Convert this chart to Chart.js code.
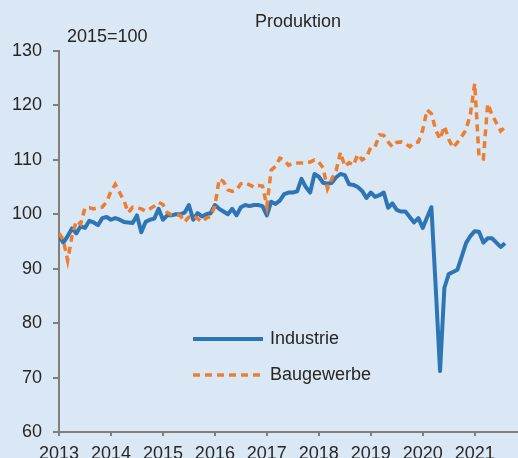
<!DOCTYPE html>
<html>
<head>
<meta charset="utf-8">
<script src="https://cdn.jsdelivr.net/npm/chart.js@4/dist/chart.umd.min.js"></script>
<style>
html,body{margin:0;padding:0;background:#dae8f5;}
#wrap{width:518px;height:458px;overflow:hidden;}
canvas{display:block;}
</style>
</head>
<body>
<div id="wrap"><canvas id="c" width="518" height="458"></canvas></div>
<script>
// Monthly index values, Jan 2013 onwards (2015=100)
const yearLabels = ["2013","2014","2015","2016","2017","2018","2019","2020","2021"];
const seriesNames = ["Industrie","Baugewerbe"];
const titleText = "Produktion";
const baseText = "2015=100";

const industrie = [
  96, 94.8, 96, 97.4, 96.5, 97.8, 97.5, 98.8, 98.5, 98, 99.3, 99.5,
  99, 99.3, 99, 98.6, 98.5, 98.4, 99.8, 96.7, 98.6, 99, 99.2, 101,
  99, 99.8, 99.8, 100, 100, 100.3, 101.7, 99, 100.2, 99.6, 100, 100.2,
  101.7, 101, 100.5, 100, 101, 99.8, 101.3, 101.7, 101.5, 101.7, 101.7, 101.5,
  99.8, 102.3, 101.9, 102.5, 103.7, 104, 104, 104.2, 106.5, 105, 104, 107.4,
  106.9, 105.8, 105.6, 105.8, 106.8, 107.4, 107.2, 105.5, 105.4, 105, 104.3, 103,
  104, 103.2, 103.5, 104, 101.2, 102, 100.8, 100.5, 100.5, 99.5, 98.5, 99.3,
  97.5, 99.4, 101.3, 86.5, 71.2, 86.5, 89, 89.4, 89.8, 92.2, 94.7, 96,
  96.9, 96.8, 94.8, 95.6, 95.6, 94.8, 94, 94.7
];
const baugewerbe = [
  96.5, 95.3, 91.5, 96, 98.8, 98.2, 101.2, 101.2, 101, 101.2, 101.3, 102.3,
  104.2, 105.5, 104, 102.5, 100.3, 101.3, 101.2, 101, 100.6, 101, 101.5, 102.2,
  101.8, 100.3, 99.9, 99.9, 99.8, 98.6, 99.5, 99.8, 99.2, 98.6, 99.3, 99.6,
  101.5, 106.5, 106, 104.5, 104.2, 104.5, 105.6, 105.8, 105.4, 105, 105.3, 105.2,
  101.5, 108.1, 108.8, 110.3, 110, 109, 109.4, 109.4, 109.4, 109.4, 109.6, 110,
  109.6, 108.5, 104.7, 106.5, 108, 111.4, 108.8, 109.5, 109, 111, 110, 110.5,
  112.3, 112.4, 114.6, 114.5, 113.3, 112.4, 113.2, 113.3, 113, 112.4, 113.2, 113.3,
  115.5, 119.2, 118.5, 115.5, 113.8, 116.2, 113.8, 112.2, 113.2, 114.3, 115.5, 118.4,
  124, 110.5, 110.2, 120.3, 118.3, 116.8, 115.3, 116
];
const yTicks = [60, 70, 80, 90, 100, 110, 120, 130];

const BLUE = '#2e75b6';
const ORANGE = '#ed7d31';
const AXIS = '#7f7f7f';
const TEXT = '#262626';
const FONT = '"Liberation Sans", Arial, sans-serif';

const toXY = arr => arr.map((v, i) => ({x: i, y: v}));

const overlay = {
  id: 'overlay',
  afterDraw(chart) {
    const ctx = chart.ctx;
    const ca = chart.chartArea;
    ctx.save();
    ctx.fillStyle = TEXT;
    ctx.font = '18px ' + FONT;
    ctx.textBaseline = 'middle';
    ctx.textAlign = 'center';
    ctx.fillText(titleText, 298, 22);
    ctx.textAlign = 'left';
    ctx.font = '18px ' + FONT;
    ctx.fillText(baseText, ca.left + 8, 37);
    // legend
    const lx0 = 193, lx1 = 263, tx = 270;
    const rows = [
      {y: 339, color: BLUE, dash: [], w: 4, label: seriesNames[0]},
      {y: 375, color: ORANGE, dash: [7, 5], w: 3.5, label: seriesNames[1]}
    ];
    rows.forEach(r => {
      ctx.beginPath();
      ctx.setLineDash(r.dash);
      ctx.strokeStyle = r.color;
      ctx.lineWidth = r.w;
      ctx.moveTo(lx0, r.y);
      ctx.lineTo(lx1, r.y);
      ctx.stroke();
      ctx.setLineDash([]);
      ctx.fillStyle = TEXT;
      ctx.font = '18px ' + FONT;
      ctx.textAlign = 'left';
      ctx.textBaseline = 'middle';
      ctx.fillText(r.label, tx, r.y);
    });
    ctx.restore();
  }
};

new Chart(document.getElementById('c'), {
  type: 'line',
  data: {
    datasets: [
      {
        label: seriesNames[1],
        data: toXY(baugewerbe),
        borderColor: ORANGE,
        borderWidth: 3.5,
        borderDash: [7, 5],
        pointRadius: 0,
        tension: 0,
        order: 0
      },
      {
        label: seriesNames[0],
        data: toXY(industrie),
        borderColor: BLUE,
        borderWidth: 4,
        pointRadius: 0,
        tension: 0,
        borderJoinStyle: 'round',
        order: 1
      }
    ]
  },
  options: {
    responsive: false,
    animation: false,
    devicePixelRatio: 1,
    layout: {padding: {top: 51, right: 0, bottom: 0, left: 0}},
    plugins: {legend: {display: false}, tooltip: {enabled: false}, title: {display: false}},
    scales: {
      x: {
        type: 'linear',
        min: 0,
        max: 106,
        afterFit(scale) { scale.height = 26; },
        afterBuildTicks(scale) { scale.ticks = yearLabels.map((y, k) => ({value: k * 12})); },
        grid: {drawOnChartArea: false, drawTicks: true, tickLength: 4, color: AXIS, lineWidth: 2},
        border: {color: AXIS, width: 2},
        ticks: {
          autoSkip: false, maxRotation: 0, padding: 7,
          color: TEXT, font: {family: FONT, size: 18},
          callback: (v) => yearLabels[Math.round(v / 12)] ?? ''
        }
      },
      y: {
        min: 60,
        max: 130,
        afterFit(scale) { scale.width = 59; },
        afterBuildTicks(scale) { scale.ticks = yTicks.map(v => ({value: v})); },
        grid: {drawOnChartArea: false, drawTicks: true, tickLength: 6, color: AXIS, lineWidth: 2},
        border: {color: AXIS, width: 2},
        ticks: {padding: 11, color: TEXT, font: {family: FONT, size: 18}}
      }
    }
  },
  plugins: [overlay]
});
</script>
</body>
</html>
